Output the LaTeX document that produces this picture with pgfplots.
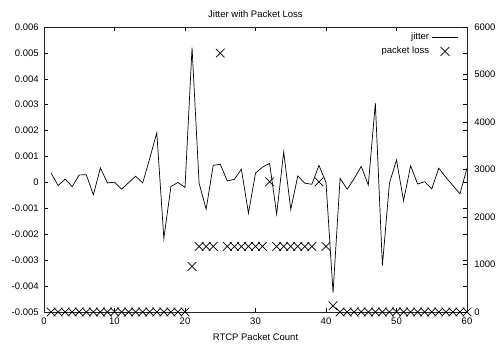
\documentclass[border=0pt]{standalone}
\usepackage{fontspec}
\setmainfont{Liberation Sans}
\usepackage{pgfplots}
\pgfplotsset{compat=1.18}
\pgfplotsset{
  lineleg/.style={legend image code/.code={\draw[##1] (0bp,0bp) -- (26bp,0bp);}},
  markleg/.style={legend image code/.code={\path[draw=none] (0bp,0bp) -- (26bp,0bp); \draw[##1] plot coordinates {(13bp,0bp)};}},
}
\pgfplotstableread{
x y
1 0.00037
2 -0.00012
3 0.00013
4 -0.00016
5 0.00029
6 0.00030
7 -0.00048
8 0.00056
9 -0.00002
10 0.00001
11 -0.00026
12 -0.00001
13 0.00024
14 -0.00002
15 0.00093
16 0.00192
17 -0.00216
18 -0.00016
19 0.00000
20 -0.00019
21 0.00520
22 -0.00003
23 -0.00103
24 0.00066
25 0.00070
26 0.00006
27 0.00012
28 0.00051
29 -0.00119
30 0.00036
31 0.00059
32 0.00074
33 -0.00122
34 0.00118
35 -0.00104
36 0.00025
37 -0.00003
38 -0.00007
39 0.00066
40 0.00000
41 -0.00425
42 0.00016
43 -0.00026
44 0.00015
45 0.00062
46 -0.00010
47 0.00306
48 -0.00321
49 -0.00003
50 0.00087
51 -0.00071
52 0.00064
53 -0.00006
54 0.00003
55 -0.00025
56 0.00055
57 0.00020
58 -0.00012
59 -0.00044
60 0.00055
}\jitter
\pgfplotstableread{
x y
1 0
2 0
3 0
4 0
5 0
6 0
7 0
8 0
9 0
10 0
11 0
12 0
13 0
14 0
15 0
16 0
17 0
18 0
19 0
20 0
21 960
22 1380
23 1380
24 1380
25 5450
26 1380
27 1380
28 1380
29 1380
30 1380
31 1380
32 2740
33 1380
34 1380
35 1380
36 1380
37 1380
38 1380
39 2740
40 1380
41 130
42 0
43 0
44 0
45 0
46 0
47 0
48 0
49 0
50 0
51 0
52 0
53 0
54 0
55 0
56 0
57 0
58 0
59 0
60 0
}\loss
\begin{document}
\begin{tikzpicture}[font=\fontsize{9.5bp}{11bp}\selectfont]
\pgfplotsset{
  common/.style={
    scale only axis, width=423bp, height=285bp,
    xmin=0, xmax=60,
    tick align=inside,
    major tick length=3.8bp,
    scaled ticks=false,
    every tick/.style={black, line width=0.6bp},
    axis line style={black!85, line width=0.9bp},
    tick label style={font=\fontsize{9.5bp}{11bp}\selectfont},
  }
}
\begin{axis}[common,
  ymin=-0.005, ymax=0.006,
  xtick={0,10,20,30,40,50,60},
  xticklabels={0,10,20,30,40,50,60},
  ytick={-0.005,-0.004,-0.003,-0.002,-0.001,0,0.001,0.002,0.003,0.004,0.005,0.006},
  yticklabels={-0.005,-0.004,-0.003,-0.002,-0.001,0,0.001,0.002,0.003,0.004,0.005,0.006},
  xtick pos=both, ytick pos=both,
  xticklabel pos=lower, yticklabel pos=left,
  xticklabel style={anchor=base, yshift=-13bp},
  yticklabel style={anchor=east, xshift=-1.8bp},
  every axis title shift=0pt,
  title={Jitter with Packet Loss},
  title style={at={(axis description cs:0.5,1)}, anchor=base, yshift=9.5bp},
  xlabel={RTCP Packet Count},
  xlabel style={at={(axis description cs:0.5,0)}, anchor=base, yshift=-29bp},
  legend plot pos=right,
  legend cell align=right,
  legend style={at={(0.98,0.9895)}, anchor=north east,
    draw=none, fill=none, inner sep=0pt, row sep=0bp,
    nodes={inner sep=2.5bp, text height=7bp, text depth=2.2bp}},
]
\addplot[black, line width=0.7bp, no markers, lineleg] table[x=x,y=y] {\jitter};
\addlegendentry{jitter}
\addlegendimage{black, only marks, mark=x, mark size=6.3bp, line width=0.7bp, markleg}
\addlegendentry{packet loss}
\coordinate (SW) at (rel axis cs:0,0);
\coordinate (NE) at (rel axis cs:1,1);
\end{axis}
\begin{axis}[common,
  ymin=0, ymax=6000,
  hide x axis,
  axis y line*=right,
  ytick={0,1000,2000,3000,4000,5000,6000},
  yticklabels={0,1000,2000,3000,4000,5000,6000},
  yticklabel style={anchor=west, xshift=3.8bp},
]
\addplot[black, only marks, mark=x, mark size=6.1bp, line width=0.7bp]
  table[x=x,y=y] {\loss};
\end{axis}
\pgfresetboundingbox
\path ([shift={(-44bp,-32bp)}]SW) rectangle ([shift={(29bp,27bp)}]NE);
\end{tikzpicture}
\end{document}
